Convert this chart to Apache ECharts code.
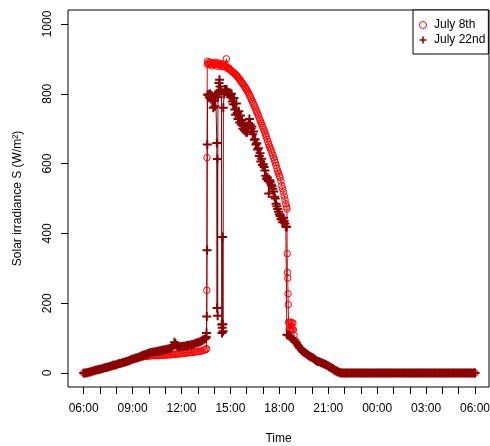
<!DOCTYPE html>
<html><head><meta charset="utf-8">
<script src="https://cdn.jsdelivr.net/npm/echarts@6/dist/echarts.min.js"></script>
<style>html,body{margin:0;padding:0;background:#fff}#chart{width:490px;height:446px}</style>
</head><body><div id="chart"></div>
<script>
// ---- data: July 8th (circles) ----
const time8 = (
"06:00 06:06 06:12 06:18 06:24 06:30 06:36 06:42 06:48 06:54 " +
"07:00 07:06 07:12 07:18 07:24 07:30 07:36 07:42 07:48 07:54 " +
"08:00 08:06 08:12 08:18 08:24 08:30 08:36 08:42 08:48 08:54 " +
"09:00 09:06 09:12 09:18 09:24 09:30 09:36 09:42 09:48 09:54 " +
"10:00 10:06 10:12 10:18 10:24 10:30 10:36 10:42 10:48 10:54 " +
"11:00 11:06 11:12 11:18 11:24 11:30 11:36 11:42 11:48 11:54 " +
"12:00 12:06 12:12 12:18 12:24 12:30 12:36 12:42 12:48 12:54 " +
"13:00 13:06 13:12 13:18 13:24 13:30 13:32 13:33 13:34 13:35 13:36 13:39 13:42 13:45 13:48 13:51 13:54 13:57 " +
"14:00 14:03 14:06 14:09 14:12 14:15 14:18 14:21 14:24 14:27 14:30 14:33 14:36 14:39 14:42 14:45 14:48 14:51 14:54 14:57 " +
"15:00 15:03 15:06 15:09 15:12 15:15 15:18 15:21 15:24 15:27 15:30 15:33 15:36 15:39 15:42 15:45 15:48 15:51 15:54 15:57 " +
"16:00 16:03 16:06 16:09 16:12 16:15 16:18 16:21 16:24 16:27 16:30 16:33 16:36 16:39 16:42 16:45 16:48 16:51 16:54 16:57 " +
"17:00 17:03 17:06 17:09 17:12 17:15 17:18 17:21 17:24 17:27 17:30 17:33 17:36 17:39 17:42 17:45 17:48 17:51 17:54 17:57 " +
"18:00 18:03 18:06 18:09 18:12 18:15 18:18 18:21 18:24 18:27 18:28 18:29 18:30 18:31 18:32 18:33 18:34 18:36 18:38 18:40 18:42 18:44 18:46 18:48 18:50 18:52 18:54 " +
"19:00 19:06 19:12 19:18 19:24 19:30 19:36 19:42 19:48 19:54 " +
"20:00 20:06 20:12 20:18 20:24 20:30 20:36 20:42 20:48 20:54 " +
"21:00 21:06 21:12 21:18 21:24 21:30 21:36 21:42 21:48 21:54 " +
"22:00 22:06 22:12 22:18 22:24 22:30 22:36 22:42 22:48 22:54 " +
"23:00 23:06 23:12 23:18 23:24 23:30 23:36 23:42 23:48 23:54 " +
"00:00 00:06 00:12 00:18 00:24 00:30 00:36 00:42 00:48 00:54 " +
"01:00 01:06 01:12 01:18 01:24 01:30 01:36 01:42 01:48 01:54 " +
"02:00 02:06 02:12 02:18 02:24 02:30 02:36 02:42 02:48 02:54 " +
"03:00 03:06 03:12 03:18 03:24 03:30 03:36 03:42 03:48 03:54 " +
"04:00 04:06 04:12 04:18 04:24 04:30 04:36 04:42 04:48 04:54 " +
"05:00 05:06 05:12 05:18 05:24 05:30 05:36 05:42 05:48 05:54 06:00"
).trim().split(/\s+/);
const irr8 = [
0,0,1,2,4,5,6,7,9,10,
11,12,13,15,16,17,18,20,21,23,
24,25,27,28,29,31,32,34,35,37,
39,40,41,43,44,45,46,47,48,48,
49,49,50,50,50,50,50,51,51,51,
51,52,52,52,53,53,54,54,55,55,
56,56,57,57,58,58,59,59,60,61,
61,62,63,64,66,67,70,237,617,885,893,888,884,890,886,880,889,884,
887,882,890,885,879,888,884,880,886,882,878,885,880,877,882,900,876,872,874,870,
868,866,864,862,860,858,856,854,851,848,845,842,839,836,832,829,826,822,819,815,
811,807,803,798,793,788,783,778,772,767,762,756,750,745,739,733,727,721,715,709,
703,697,691,684,677,670,663,656,649,643,638,631,624,617,610,603,595,587,579,572,
566,560,550,537,528,518,507,496,485,476,470,342,288,272,227,196,145,125,143,124,146,126,144,125,143,124,108,
92,84,76,70,65,60,57,54,50,47,
45,42,38,35,33,31,29,28,26,24,
21,19,16,13,10,7,5,3,1,0,
0,0,0,0,0,0,0,0,0,0,
0,0,0,0,0,0,0,0,0,0,
0,0,0,0,0,0,0,0,0,0,
0,0,0,0,0,0,0,0,0,0,
0,0,0,0,0,0,0,0,0,0,
0,0,0,0,0,0,0,0,0,0,
0,0,0,0,0,0,0,0,0,0,
0,0,0,0,0,0,0,0,0,0,0
];
// ---- data: July 22nd (plus signs) ----
const time22 = (
"06:00 06:06 06:12 06:18 06:24 06:30 06:36 06:42 06:48 06:54 " +
"07:00 07:06 07:12 07:18 07:24 07:30 07:36 07:42 07:48 07:54 " +
"08:00 08:06 08:12 08:18 08:24 08:30 08:36 08:42 08:48 08:54 " +
"09:00 09:06 09:12 09:18 09:24 09:30 09:36 09:42 09:48 09:54 " +
"10:00 10:06 10:12 10:18 10:24 10:30 10:36 10:42 10:48 10:54 " +
"11:00 11:06 11:12 11:18 11:24 11:30 11:34 11:38 11:42 11:48 11:54 " +
"12:00 12:06 12:12 12:18 12:24 12:30 12:36 12:42 12:48 12:54 " +
"13:00 13:06 13:12 13:18 13:24 13:30 13:31 13:32 13:33 13:34 13:35 13:36 13:39 13:42 13:45 13:48 13:51 13:54 13:57 " +
"14:00 14:03 14:06 14:09 14:10 14:11 14:12 14:13 14:14 14:16 14:18 14:20 14:22 14:25 14:27 14:28 14:29 14:30 14:31 14:32 14:33 14:34 14:37 14:40 14:43 14:46 14:49 14:52 14:55 14:58 " +
"15:01 15:04 15:07 15:10 15:13 15:16 15:19 15:22 15:25 15:28 15:31 15:34 15:37 15:40 15:43 15:46 15:49 15:52 15:55 15:58 " +
"16:01 16:04 16:07 16:10 16:13 16:16 16:19 16:22 16:25 16:28 16:31 16:34 16:37 16:40 16:43 16:46 16:49 16:52 16:55 16:58 " +
"17:01 17:04 17:07 17:10 17:13 17:16 17:19 17:21 17:24 17:27 17:30 17:33 17:36 17:39 17:42 17:45 17:48 17:51 17:54 17:57 " +
"18:00 18:03 18:06 18:09 18:12 18:15 18:18 18:21 18:24 18:27 18:28 18:33 18:39 18:45 18:51 18:57 " +
"19:03 19:09 19:15 19:21 19:27 19:33 19:39 19:45 19:51 19:57 " +
"20:03 20:09 20:15 20:21 20:27 20:33 20:39 20:45 20:51 20:57 " +
"21:03 21:09 21:15 21:21 21:27 21:33 21:39 21:45 21:51 21:57 " +
"22:03 22:09 22:15 22:21 22:27 22:33 22:39 22:45 22:51 22:57 " +
"23:03 23:09 23:15 23:21 23:27 23:33 23:39 23:45 23:51 23:57 " +
"00:03 00:09 00:15 00:21 00:27 00:33 00:39 00:45 00:51 00:57 " +
"01:03 01:09 01:15 01:21 01:27 01:33 01:39 01:45 01:51 01:57 " +
"02:03 02:09 02:15 02:21 02:27 02:33 02:39 02:45 02:51 02:57 " +
"03:03 03:09 03:15 03:21 03:27 03:33 03:39 03:45 03:51 03:57 " +
"04:03 04:09 04:15 04:21 04:27 04:33 04:39 04:45 04:51 04:57 " +
"05:03 05:09 05:15 05:21 05:27 05:33 05:39 05:45 05:51 05:57 06:00"
).trim().split(/\s+/);
const irr22 = [
0,0,1,2,3,5,6,8,9,10,
11,12,14,15,16,17,19,20,22,23,
24,26,27,28,30,31,33,34,36,38,
40,41,43,44,46,48,50,52,53,55,
57,59,59,60,61,62,63,64,65,66,
67,68,69,70,72,78,88,84,78,75,75,
76,77,77,78,79,80,81,82,84,86,
87,89,91,94,97,100,104,115,162,352,655,797,797,790,800,785,795,780,760,
790,764,797,800,659,186,613,164,790,805,831,840,821,810,800,139,115,130,390,140,120,760,800,812,808,812,805,802,798,795,
790,800,778,770,788,755,740,772,745,728,750,718,738,712,725,700,715,695,708,690,
690,708,715,728,712,700,706,684,692,668,670,655,658,640,644,622,630,606,614,596,
598,590,580,565,556,560,550,514,552,548,540,535,528,520,505,500,485,478,470,462,
455,450,442,440,432,445,435,428,420,418,110,108,105,100,95,90,
86,78,72,67,62,58,55,52,48,46,
44,40,36,33,32,30,28,26,24,21,
18,15,12,9,6,4,2,0,0,0,
0,0,0,0,0,0,0,0,0,0,
0,0,0,0,0,0,0,0,0,0,
0,0,0,0,0,0,0,0,0,0,
0,0,0,0,0,0,0,0,0,0,
0,0,0,0,0,0,0,0,0,0,
0,0,0,0,0,0,0,0,0,0,
0,0,0,0,0,0,0,0,0,0,
0,0,0,0,0,0,0,0,0,0,0
];
// ---- axes ----
const hourTicks = [0,1,2,3,4,5,6,7,8,9,10,11,12,13,14,15,16,17,18,19,20,21,22,23,24];
const labelHours = [0,3,6,9,12,15,18,21,24];
const timeLabels = ['06:00','09:00','12:00','15:00','18:00','21:00','00:00','03:00','06:00'];
const yTicks = [0,200,400,600,800,1000];
const seriesNames = ['July 8th','July 22nd'];

if (time8.length !== irr8.length) throw new Error('July 8th length mismatch ' + time8.length + ' vs ' + irr8.length);
if (time22.length !== irr22.length) throw new Error('July 22nd length mismatch ' + time22.length + ' vs ' + irr22.length);

function toPairs(times, vals) {
  let prev = -1;
  return times.map((s, i) => {
    const p = s.split(':').map(Number);
    let h = p[0] + p[1] / 60 - 6;
    if (h < 0) h += 24;
    if (h < prev - 1e-9) h += 24;
    prev = h;
    return [h, vals[i]];
  });
}

const font = '"Liberation Sans", Arial, Helvetica, sans-serif';
const plusPath = 'path://M-1.1,-5L1.1,-5L1.1,-1.1L5,-1.1L5,1.1L1.1,1.1L1.1,5L-1.1,5L-1.1,1.1L-5,1.1L-5,-1.1L-1.1,-1.1Z';

const chart = echarts.init(document.getElementById('chart'), null, {renderer: 'canvas'});
chart.setOption({
  animation: false,
  backgroundColor: '#fff',
  textStyle: {fontFamily: font},
  grid: {left: 68, right: 1, top: 10, bottom: 59, show: true, borderColor: '#000', borderWidth: 1,
    containLabel: false, outerBoundsMode: 'none'},
  xAxis: {
    type: 'value', min: -0.961, max: 24.86,
    name: 'Time', nameLocation: 'middle', nameGap: 46, nameMoveOverlap: false,
    nameTextStyle: {fontSize: 12, color: '#000', fontFamily: font},
    axisLine: {show: false, onZero: false}, splitLine: {show: false},
    axisTick: {show: true, inside: false, customValues: hourTicks, length: 7, lineStyle: {color: '#000', width: 1}},
    axisLabel: {customValues: labelHours, fontSize: 12, color: '#000', margin: 16, fontFamily: font,
      formatter: v => timeLabels[labelHours.indexOf(Math.round(v))]}
  },
  yAxis: {
    type: 'value', min: -40, max: 1040,
    name: 'Solar irradiance S (W/m²)', nameLocation: 'middle', nameGap: 44, nameMoveOverlap: false,
    nameTextStyle: {fontSize: 12, color: '#000', fontFamily: font},
    axisLine: {show: false, onZero: false}, splitLine: {show: false},
    axisTick: {show: true, inside: false, customValues: yTicks, length: 7, lineStyle: {color: '#000', width: 1}},
    axisLabel: {customValues: yTicks, rotate: 90, align: 'center', verticalAlign: 'middle',
      fontSize: 12, color: '#000', margin: 20, fontFamily: font, formatter: v => String(v)}
  },
  legend: {
    orient: 'vertical', left: 413, top: 10,
    padding: [9, 3, 8, 6], itemGap: 3, itemWidth: 12, itemHeight: 7,
    borderColor: '#000', borderWidth: 1, backgroundColor: '#fff', borderRadius: 0,
    textStyle: {fontSize: 12, color: '#000', fontFamily: font},
    data: [
      {name: seriesNames[0], icon: 'circle', itemStyle: {color: 'rgba(255,255,255,0)', borderColor: '#ff0000', borderWidth: 1}},
      {name: seriesNames[1], icon: plusPath, itemStyle: {color: '#8b0000', borderWidth: 0}}
    ]
  },
  series: [
    {
      name: seriesNames[0], type: 'line', data: toPairs(time8, irr8),
      symbol: 'circle', symbolSize: 6.5, showSymbol: true,
      itemStyle: {color: 'rgba(255,255,255,0)', borderColor: '#ff0000', borderWidth: 1},
      lineStyle: {color: '#ff0000', width: 1},
      emphasis: {disabled: true}, silent: true
    },
    {
      name: seriesNames[1], type: 'line', data: toPairs(time22, irr22),
      symbol: plusPath, symbolSize: 9, showSymbol: true,
      itemStyle: {color: '#8b0000', borderWidth: 0},
      lineStyle: {color: '#8b0000', width: 1},
      emphasis: {disabled: true}, silent: true
    }
  ]
});
</script></body></html>
